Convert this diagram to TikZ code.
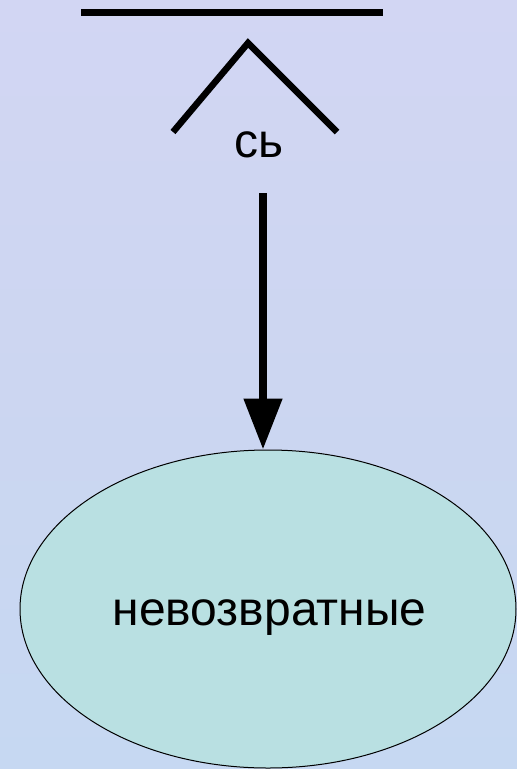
\documentclass[tikz,border=0pt]{standalone}
\usepackage{fontspec}
\setmainfont{Liberation Sans}
\usetikzlibrary{shapes.geometric,arrows.meta}
\definecolor{bgcol}{HTML}{CCD6F1}
\definecolor{bgtop}{HTML}{D2D6F3}
\definecolor{bgbot}{HTML}{C6D8F2}
\definecolor{ellfill}{HTML}{B9E0E2}
\tikzset{
  bar/.style={line width=7pt, black},
  caretline/.style={line width=6.5pt, black, line cap=butt},
  bigtext/.style={font=\fontsize{48}{52}\selectfont, inner sep=0pt, anchor=base},
  ellbox/.style={ellipse, draw=black, line width=1pt, fill=ellfill, inner sep=0pt,
    minimum width=496pt, minimum height=318pt},
  arrowline/.style={line width=8pt, -{Triangle[length=51pt,width=37pt]}, shorten >=0pt}
}
\begin{document}
\begin{tikzpicture}[x=1pt,y=-1pt]
  \useasboundingbox (0,0) rectangle (517,769);
  % background
  \shade[top color=bgtop, bottom color=bgbot, middle color=bgcol] (0,0) rectangle (517,769);
  % top bar
  \coordinate (barL) at (81,12);
  \coordinate (barR) at (383,12);
  \draw[bar] (barL) -- (barR);
  % caret
  \coordinate (cL) at (173,132);
  \coordinate (cA) at (248,43);
  \coordinate (cR) at (337,132);
  \draw[caretline, line join=miter] (cL) -- (cA) -- (cR);
  % suffix text
  \node[bigtext] (suf) at (259.5,157) {сь};
  % ellipse
  \node[ellbox] (ell) at (268,609) {};
  \node[bigtext] (elltxt) at (269.5,625) {невозвратные};
  % arrow
  \coordinate (astart) at (263,193);
  \draw[arrowline] (astart) -- (astart |- ell.north);
\end{tikzpicture}
\end{document}
